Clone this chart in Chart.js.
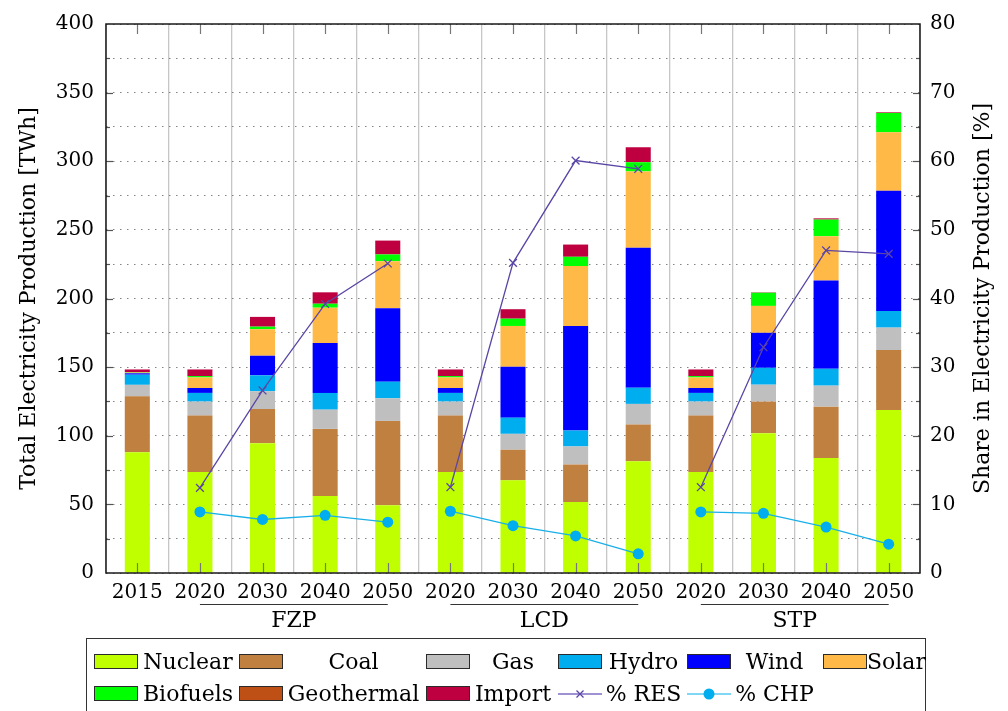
<!DOCTYPE html>
<html>
<head>
<meta charset="utf-8">
<script src="https://cdn.jsdelivr.net/npm/chart.js@4.4.1/dist/chart.umd.min.js"></script>
<style>
  html, body { margin: 0; padding: 0; background: #fff; }
  #wrap { position: relative; width: 1008px; height: 711px; overflow: hidden; }
  #chart { position: absolute; left: 0; top: 0; }
  #legend {
    position: absolute; left: 86px; top: 638px; width: 840px; height: 92px;
    border: 1.3px solid #333; box-sizing: border-box; background: #fff;
    font-family: 'DejaVu Serif', serif; font-size: 22px; color: #000;
  }
  .sw { position: absolute; width: 44px; height: 15px; box-sizing: border-box; border: 1.2px solid #2a2a2a; }
  .sym { position: absolute; width: 44px; height: 16px; }
  .txt { position: absolute; text-align: center; white-space: nowrap; line-height: 24px; height: 24px; }
</style>
</head>
<body>
<div id="wrap">
  <canvas id="chart" width="1008" height="711"></canvas>
  <div id="legend"></div>
</div>
<script>
// Scenario years and scenario groups
const categories = ['2015', '2020', '2030', '2040', '2050', '2020', '2030', '2040', '2050', '2020', '2030', '2040', '2050'];
const groups = [
  { name: 'FZP', from: 1, to: 4 },
  { name: 'LCD', from: 5, to: 8 },
  { name: 'STP', from: 9, to: 12 }
];

// Electricity production by source [TWh]
const nuclear    = [88.0, 73.5, 94.6, 56.1, 49.4, 73.5, 67.5, 51.8, 81.5, 73.5, 101.9, 83.7, 118.8];
const coal       = [40.7, 41.2, 24.9, 48.9, 61.4, 41.2, 22.3, 27.3, 26.7, 41.2, 23.0, 37.5, 43.6];
const gas        = [8.4, 10.2, 12.9, 14.0, 16.5, 10.2, 11.6, 13.1, 15.0, 10.2, 12.3, 15.3, 16.4];
const hydro      = [7.4, 6.3, 11.6, 12.2, 12.1, 6.3, 11.8, 11.6, 11.8, 6.3, 12.3, 12.3, 12.1];
const wind       = [1.0, 3.6, 14.3, 36.3, 53.5, 3.6, 37.1, 76.2, 101.9, 3.6, 25.5, 64.4, 87.6];
const solar      = [0.5, 7.7, 19.3, 25.8, 34.3, 7.7, 29.7, 43.6, 55.7, 7.7, 19.6, 32.2, 42.6];
const biofuels   = [0.3, 1.0, 1.9, 2.9, 4.9, 1.0, 5.3, 6.8, 6.7, 1.0, 9.6, 12.1, 14.1];
const geothermal = [0, 0, 0, 0, 0, 0, 0, 0, 0, 0, 0, 0, 0];
const imports    = [2.0, 4.8, 7.1, 8.3, 10.1, 4.8, 6.9, 8.9, 10.9, 4.8, 0.3, 0.9, 0.5];

// Shares in electricity production [%]
const resShare = [null, 12.4, 26.6, 39.2, 45.1, 12.5, 45.2, 60.1, 58.9, 12.5, 32.9, 47.0, 46.5];
const chpShare = [null, 8.9, 7.8, 8.4, 7.4, 9.0, 6.9, 5.4, 2.8, 8.9, 8.7, 6.7, 4.2];

const FONT = "'DejaVu Serif', serif";

const sources = [
  { label: 'Nuclear',    data: nuclear,    color: '#bfff00' },
  { label: 'Coal',       data: coal,       color: '#bf8040' },
  { label: 'Gas',        data: gas,        color: '#bfbfbf' },
  { label: 'Hydro',      data: hydro,      color: '#00aeef' },
  { label: 'Wind',       data: wind,       color: '#0000ff' },
  { label: 'Solar',      data: solar,      color: '#ffb946' },
  { label: 'Biofuels',   data: biofuels,   color: '#00ff00' },
  { label: 'Geothermal', data: geothermal, color: '#bf5015' },
  { label: 'Import',     data: imports,    color: '#bf0040' }
];

const RES_COLOR = '#5b46a5';
const CHP_COLOR = '#19b0ea';

function groupOf(i) {
  const g = groups.find(g => i >= g.from && i <= g.to);
  return g ? g.name : null;
}
// lines are only joined within one scenario
function segColor(color) {
  return ctx => (groupOf(ctx.p0DataIndex) === groupOf(ctx.p1DataIndex) ? color : 'rgba(0,0,0,0)');
}

const datasets = sources.map(s => ({
  type: 'bar',
  label: s.label,
  data: s.data,
  backgroundColor: s.color,
  borderWidth: 0,
  yAxisID: 'y',
  stack: 'prod',
  order: 2,
  barPercentage: 0.4,
  categoryPercentage: 1.0
}));

datasets.push({
  type: 'line',
  label: '% RES',
  data: resShare,
  yAxisID: 'y1',
  borderColor: RES_COLOR,
  borderWidth: 1.3,
  pointStyle: 'crossRot',
  pointRadius: 5.5,
  pointBorderColor: RES_COLOR,
  pointBorderWidth: 1.3,
  fill: false,
  tension: 0,
  spanGaps: false,
  order: 0,
  segment: { borderColor: segColor(RES_COLOR) }
});
datasets.push({
  type: 'line',
  label: '% CHP',
  data: chpShare,
  yAxisID: 'y1',
  borderColor: CHP_COLOR,
  borderWidth: 1.3,
  pointStyle: 'circle',
  pointRadius: 5.5,
  pointBackgroundColor: '#00aeef',
  pointBorderColor: '#00aeef',
  pointBorderWidth: 0,
  fill: false,
  tension: 0,
  spanGaps: false,
  order: 1,
  segment: { borderColor: segColor(CHP_COLOR) }
});

// inner tick marks, frame, scenario labels and axis titles
const overlay = {
  id: 'overlay',
  afterDraw(chart) {
    const { ctx, chartArea: a, scales } = chart;
    const x = scales.x, y = scales.y, y1 = scales.y1;
    const line = (x0, y0, x2, y2) => { ctx.beginPath(); ctx.moveTo(x0, y0); ctx.lineTo(x2, y2); ctx.stroke(); };
    ctx.save();

    ctx.strokeStyle = '#777';
    ctx.lineWidth = 1.2;
    categories.forEach((c, i) => {
      const px = Math.round(x.getPixelForValue(i)) + 0.5;
      line(px, a.bottom, px, a.bottom - 10);
      line(px, a.top, px, a.top + 10);
    });

    ctx.strokeStyle = '#555';
    for (let v = 25; v < 400; v += 25) {
      const py = Math.round(y.getPixelForValue(v)) + 0.5;
      line(a.left, py, a.left + (v % 50 === 0 ? 7 : 4), py);
    }
    for (let v = 5; v < 80; v += 5) {
      const py = Math.round(y1.getPixelForValue(v)) + 0.5;
      line(a.right, py, a.right - (v % 10 === 0 ? 7 : 4), py);
    }

    ctx.strokeStyle = '#1a1a1a';
    ctx.lineWidth = 1.5;
    ctx.strokeRect(a.left, a.top, a.right - a.left, a.bottom - a.top);

    // scenario brackets under the year labels
    ctx.fillStyle = '#000';
    ctx.font = '22px ' + FONT;
    ctx.textAlign = 'center';
    ctx.textBaseline = 'middle';
    ctx.strokeStyle = '#333';
    ctx.lineWidth = 1.2;
    groups.forEach(g => {
      const x0 = x.getPixelForValue(g.from), x2 = x.getPixelForValue(g.to);
      line(x0, a.bottom + 31.5, x2, a.bottom + 31.5);
      ctx.fillText(g.name, (x0 + x2) / 2, a.bottom + 48);
    });

    // axis titles
    ctx.font = '22px ' + FONT;
    const midY = (a.top + a.bottom) / 2;
    ctx.translate(29, midY);
    ctx.rotate(-Math.PI / 2);
    ctx.fillText('Total Electricity Production [TWh]', 0, 0);
    ctx.rotate(Math.PI / 2);
    ctx.translate(-29, -midY);
    ctx.translate(983, midY);
    ctx.rotate(-Math.PI / 2);
    ctx.fillText('Share in Electricity Production [%]', 0, 0);
    ctx.restore();
  }
};

new Chart(document.getElementById('chart'), {
  data: { labels: categories, datasets },
  options: {
    responsive: false,
    animation: false,
    devicePixelRatio: 1,
    layout: { padding: { top: 22, left: 0, right: 0, bottom: 0 } },
    plugins: { legend: { display: false }, tooltip: { enabled: false } },
    scales: {
      x: {
        type: 'category',
        stacked: true,
        offset: true,
        grid: { offset: true, color: '#c6c6c6', lineWidth: 1.3, drawTicks: false },
        border: { display: false },
        ticks: { color: '#000', font: { family: FONT, size: 20 }, padding: 8, maxRotation: 0, autoSkip: false },
        afterFit: s => { s.height = 138; }
      },
      y: {
        type: 'linear',
        position: 'left',
        stacked: true,
        min: 0, max: 400,
        grid: { color: 'rgba(90,90,90,0.75)', lineWidth: 1, drawTicks: false },
        border: { display: false, dash: [1.5, 5.5] },
        ticks: {
          stepSize: 25, maxTicksLimit: 100, autoSkip: false, padding: 12,
          color: '#000', font: { family: FONT, size: 20 },
          callback: v => (v % 50 === 0 ? v : '')
        },
        afterFit: s => { s.width = 106; }
      },
      y1: {
        type: 'linear',
        position: 'right',
        min: 0, max: 80,
        grid: { display: false, drawTicks: false },
        border: { display: false },
        ticks: {
          stepSize: 5, maxTicksLimit: 100, autoSkip: false, padding: 10,
          color: '#000', font: { family: FONT, size: 20 },
          callback: v => (v % 10 === 0 ? v : '')
        },
        afterFit: s => { s.width = 88; }
      }
    }
  },
  plugins: [overlay]
});

// Legend: six columns, two rows
const legendCols = [
  { sw: 7,   txt: [52, 150] },
  { sw: 152, txt: [196, 337] },
  { sw: 339, txt: [383, 469] },
  { sw: 471, txt: [515, 598] },
  { sw: 600, txt: [643, 732] },
  { sw: 736, txt: [780, 839] }
];
const legendRowsY = [22.5, 54.5];
const legendItems = sources.map(s => ({ label: s.label, kind: 'box', color: s.color }))
  .concat([
    { label: '% RES', kind: 'cross', color: '#7f6cc4' },
    { label: '% CHP', kind: 'dot', color: '#55c8f2' }
  ]);

const legend = document.getElementById('legend');
legendItems.forEach((it, i) => {
  const col = legendCols[i % 6];
  const cy = legendRowsY[Math.floor(i / 6)];
  if (it.kind === 'box') {
    const d = document.createElement('div');
    d.className = 'sw';
    d.style.left = col.sw + 'px';
    d.style.top = (cy - 7.5) + 'px';
    d.style.background = it.color;
    legend.appendChild(d);
  } else {
    const ns = 'http://www.w3.org/2000/svg';
    const svg = document.createElementNS(ns, 'svg');
    svg.setAttribute('class', 'sym');
    svg.setAttribute('width', '44');
    svg.setAttribute('height', '16');
    svg.style.left = col.sw + 'px';
    svg.style.top = (cy - 8) + 'px';
    const ln = document.createElementNS(ns, 'line');
    ln.setAttribute('x1', '0'); ln.setAttribute('x2', '44');
    ln.setAttribute('y1', '8'); ln.setAttribute('y2', '8');
    ln.setAttribute('stroke', it.color); ln.setAttribute('stroke-width', '1.5');
    svg.appendChild(ln);
    if (it.kind === 'cross') {
      const p = document.createElementNS(ns, 'path');
      p.setAttribute('d', 'M18.5 4.5 L25.5 11.5 M25.5 4.5 L18.5 11.5');
      p.setAttribute('stroke', '#5b46a5'); p.setAttribute('stroke-width', '1.3');
      svg.appendChild(p);
    } else {
      const c = document.createElementNS(ns, 'circle');
      c.setAttribute('cx', '22'); c.setAttribute('cy', '8'); c.setAttribute('r', '5.5');
      c.setAttribute('fill', '#00aeef');
      svg.appendChild(c);
    }
    legend.appendChild(svg);
  }
  const t = document.createElement('div');
  t.className = 'txt';
  t.textContent = it.label;
  t.style.left = col.txt[0] + 'px';
  t.style.width = (col.txt[1] - col.txt[0]) + 'px';
  t.style.top = (cy - 12) + 'px';
  legend.appendChild(t);
});
</script>
</body>
</html>
